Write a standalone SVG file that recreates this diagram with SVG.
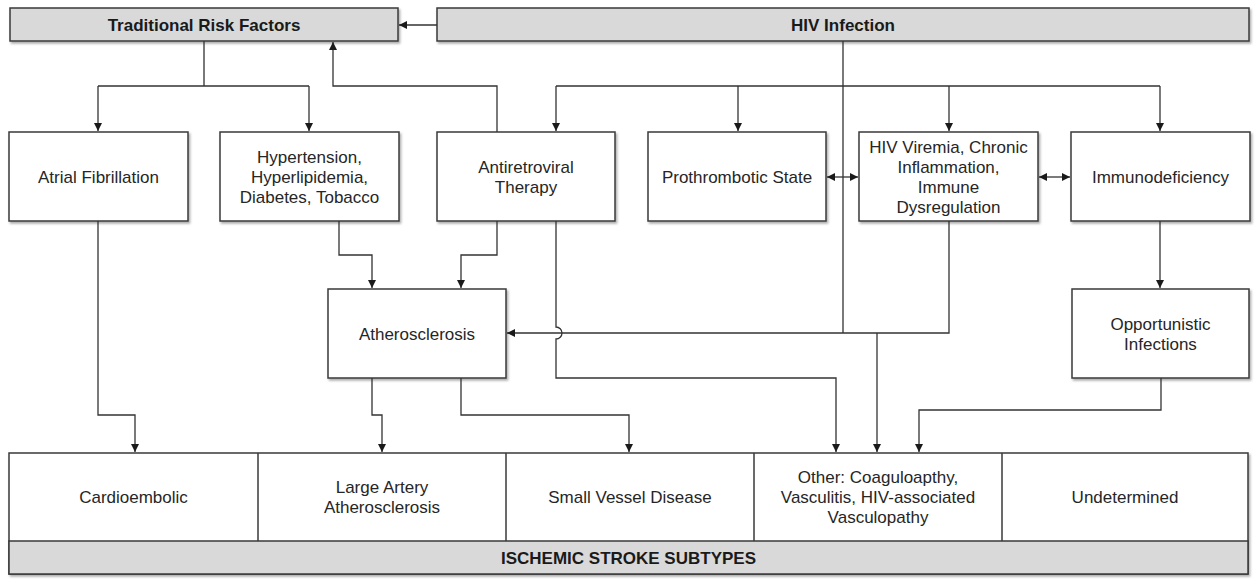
<svg xmlns="http://www.w3.org/2000/svg" width="1256" height="579" viewBox="0 0 1256 579">
<defs>
<filter id="sh" x="-5%" y="-5%" width="110%" height="120%">
<feDropShadow dx="1.5" dy="2" stdDeviation="1.2" flood-color="#777" flood-opacity="0.6"/>
</filter>
<marker id="ah" viewBox="0 0 10 10" refX="10" refY="5" markerWidth="8" markerHeight="8" orient="auto-start-reverse" markerUnits="userSpaceOnUse">
<path d="M0,0 L10,5 L0,10 z" fill="#1a1a1a"/>
</marker>
<style>
.box{fill:#fff;stroke:#3a3a3a;stroke-width:1.5;filter:url(#sh)}
.bar{fill:#d9d9d9;stroke:#3a3a3a;stroke-width:1.5;filter:url(#sh)}
.t{font-family:"Liberation Sans",Arial,sans-serif;font-size:17px;fill:#262626;text-anchor:middle}
.b{font-family:"Liberation Sans",Arial,sans-serif;font-size:17px;font-weight:bold;fill:#1a1a1a;text-anchor:middle}
.c{fill:none;stroke:#333;stroke-width:1.3}
.a{marker-end:url(#ah)}
</style>
</defs>
<rect width="1256" height="579" fill="#fff"/>

<g id="trf"><rect class="bar" x="10" y="8" width="388" height="33"/><text class="b" x="204" y="31">Traditional Risk Factors</text></g>
<g id="hiv"><rect class="bar" x="437" y="8" width="812" height="33"/><text class="b" x="843" y="31">HIV Infection</text></g>

<g id="af"><rect class="box" x="9" y="132" width="179" height="89"/><text class="t" x="98.5" y="183">Atrial Fibrillation</text></g>
<g id="htn"><rect class="box" x="220" y="132" width="179" height="89"/><text class="t" x="309.5" y="163">Hypertension,</text><text class="t" x="309.5" y="183">Hyperlipidemia,</text><text class="t" x="309.5" y="203">Diabetes, Tobacco</text></g>
<g id="art"><rect class="box" x="437" y="132" width="178" height="89"/><text class="t" x="526" y="173">Antiretroviral</text><text class="t" x="526" y="193">Therapy</text></g>
<g id="pro"><rect class="box" x="648" y="132" width="178" height="89"/><text class="t" x="737" y="183">Prothrombotic State</text></g>
<g id="vir"><rect class="box" x="859" y="132" width="179" height="89"/><text class="t" x="948.5" y="153">HIV Viremia, Chronic</text><text class="t" x="948.5" y="173">Inflammation,</text><text class="t" x="948.5" y="193">Immune</text><text class="t" x="948.5" y="213">Dysregulation</text></g>
<g id="imm"><rect class="box" x="1071" y="132" width="179" height="89"/><text class="t" x="1160.5" y="183">Immunodeficiency</text></g>

<g id="ath"><rect class="box" x="328" y="289" width="178" height="89"/><text class="t" x="417" y="340">Atherosclerosis</text></g>
<g id="opp"><rect class="box" x="1072" y="289" width="177" height="89"/><text class="t" x="1160.5" y="330">Opportunistic</text><text class="t" x="1160.5" y="350">Infections</text></g>

<g id="subtypes">
<rect class="box" x="9" y="453" width="1239" height="121"/>
<rect x="9" y="541" width="1239" height="33" fill="#d9d9d9" stroke="#3a3a3a" stroke-width="1.5"/>
<path d="M258,453V541M506,453V541M754,453V541M1002,453V541" stroke="#3a3a3a" stroke-width="1.5"/>
<text class="t" x="133.5" y="503">Cardioembolic</text>
<text class="t" x="382" y="493">Large Artery</text><text class="t" x="382" y="513">Atherosclerosis</text>
<text class="t" x="630" y="503">Small Vessel Disease</text>
<text class="t" x="878" y="483">Other: Coaguloapthy,</text><text class="t" x="878" y="503">Vasculitis, HIV-associated</text><text class="t" x="878" y="523">Vasculopathy</text>
<text class="t" x="1125" y="503">Undetermined</text>
<text class="b" x="628.5" y="564">ISCHEMIC STROKE SUBTYPES</text>
</g>

<g id="connectors">
<path class="c a" d="M437,25H399"/>
<path class="c" d="M204,41V86M98,86H309"/>
<path class="c a" d="M98,86V131"/>
<path class="c a" d="M309,86V131"/>
<path class="c a" d="M497,132V86H333V42"/>
<path class="c" d="M843,41V333M556,86H1160"/>
<path class="c a" d="M556,86V131"/>
<path class="c a" d="M738,86V131"/>
<path class="c a" d="M949,86V131"/>
<path class="c a" d="M1160,86V131"/>
<path class="c a" style="marker-start:url(#ah)" d="M827,177H858"/>
<path class="c a" style="marker-start:url(#ah)" d="M1039,177H1070"/>
<path class="c a" d="M98,221V415H135V452"/>
<path class="c a" d="M339,221V255H372V288"/>
<path class="c a" d="M497,221V255H461V288"/>
<path class="c a" d="M556,221V327A6,6 0 0 1 556,339V378H836V452"/>
<path class="c a" d="M949,221V333H507"/>
<path class="c a" d="M877,333V452"/>
<path class="c a" d="M372,378V415H382V452"/>
<path class="c a" d="M461,378V415H629V452"/>
<path class="c a" d="M1160,221V288"/>
<path class="c a" d="M1161,378V410H919V452"/>
</g>
</svg>
